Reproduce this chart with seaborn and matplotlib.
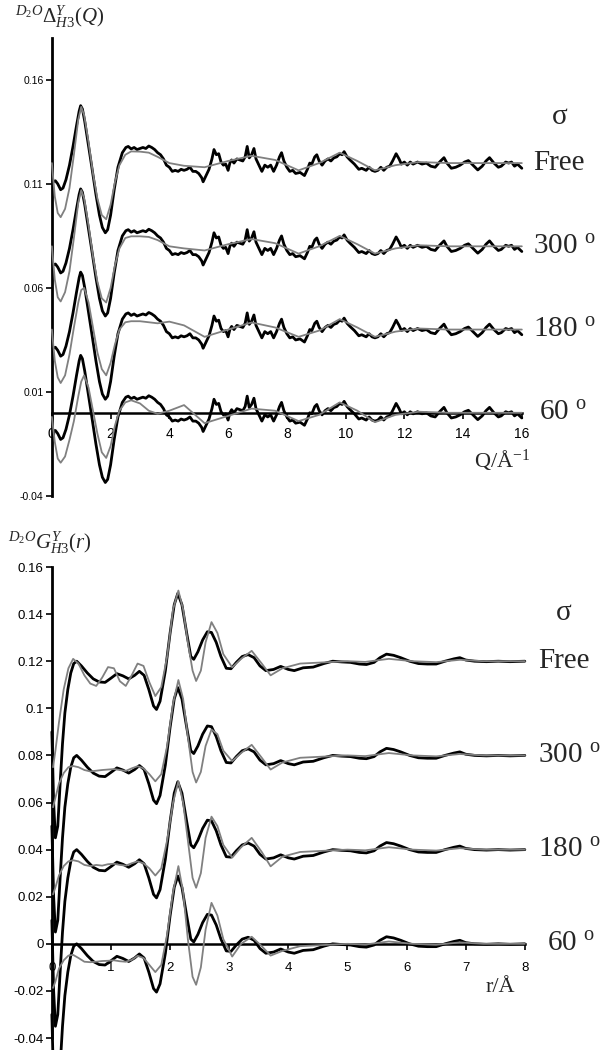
import pandas as pd
import matplotlib
matplotlib.use("Agg")
import matplotlib.pyplot as plt
import seaborn as sns

sns.set_style("white")
plt.rcParams["font.family"] = ["Liberation Sans", "DejaVu Sans"]
plt.rcParams["mathtext.fontset"] = "custom"
plt.rcParams["mathtext.rm"] = "Liberation Serif"
plt.rcParams["mathtext.it"] = "Liberation Serif:italic"
plt.rcParams["mathtext.bf"] = "Liberation Serif:bold"
plt.rcParams["axes.unicode_minus"] = False

# curves are stacked: each sigma is shifted up by a constant
sigmas = ["Free", "300", "180", "60"]
shifts = [0.12, 0.08, 0.04, 0.0]

# ---- top panel: Delta(Q), experiment (black), same for every sigma ----
q_exp = [0.04, 0.12, 0.2, 0.3, 0.38, 0.48, 0.6, 0.72, 0.84, 0.93, 0.98, 1.04, 1.12, 1.22,
         1.35, 1.5, 1.62, 1.72, 1.82, 1.9, 2.0, 2.12, 2.25, 2.4, 2.52, 2.6, 2.7, 2.8, 2.9,
         3.0, 3.1, 3.2, 3.3, 3.4, 3.5, 3.6, 3.7, 3.8, 3.9, 4.0, 4.1, 4.2, 4.3, 4.4, 4.5,
         4.6, 4.7, 4.8, 4.9, 5.0, 5.1, 5.15, 5.25, 5.35, 5.45, 5.52, 5.6, 5.68, 5.76, 5.84,
         5.92, 6.0, 6.06, 6.12, 6.2, 6.3, 6.4, 6.5, 6.58, 6.65, 6.72, 6.8, 6.88, 6.95, 7.05,
         7.15, 7.25, 7.35, 7.45, 7.55, 7.65, 7.75, 7.82, 7.9, 8.0, 8.1, 8.2, 8.3, 8.45, 8.6,
         8.7, 8.78, 8.85, 8.95, 9.02, 9.1, 9.2, 9.3, 9.4, 9.5, 9.6, 9.7, 9.8, 9.88, 9.95,
         10.05, 10.15, 10.3, 10.45, 10.55, 10.7, 10.8, 10.9, 11.0, 11.1, 11.2, 11.3, 11.4,
         11.5, 11.6, 11.72, 11.82, 11.9, 12.0, 12.1, 12.2, 12.3, 12.45, 12.6, 12.75, 12.9,
         13.05, 13.2, 13.35, 13.45, 13.6, 13.75, 13.9, 14.05, 14.18, 14.3, 14.5, 14.65,
         14.78, 14.9, 15.05, 15.2, 15.3, 15.45, 15.55, 15.65, 15.75, 15.85, 16.0]
d_exp = [-0.009, -0.0085, -0.010, -0.0128, -0.012, -0.008, -0.001, 0.008, 0.018, 0.025,
         0.0276, 0.026, 0.020, 0.011, -0.001, -0.015, -0.025, -0.031, -0.0335, -0.032,
         -0.025, -0.013, -0.002, 0.005, 0.0075, 0.008, 0.0068, 0.0075, 0.0065, 0.007,
         0.0075, 0.007, 0.0082, 0.0075, 0.0065, 0.005, 0.004, 0.002, -0.001, -0.002,
         -0.004, -0.0035, -0.004, -0.003, -0.0035, -0.003, -0.002, -0.004, -0.004, -0.005,
         -0.007, -0.009, -0.006, -0.003, 0.002, 0.0065, 0.004, 0.0045, 0.0005, -0.001,
         -0.0005, -0.0035, 0.0, 0.0015, 0.0, 0.002, 0.0015, 0.001, 0.003, 0.008, 0.0025,
         0.004, 0.007, 0.002, -0.001, -0.004, -0.001, -0.002, -0.001, -0.004, -0.001,
         0.003, 0.005, 0.001, -0.002, -0.004, -0.0035, -0.005, -0.0045, -0.006, -0.003,
         0.0, -0.0005, 0.003, 0.004, 0.001, -0.001, 0.001, 0.002, 0.001, 0.0025, 0.003,
         0.0045, 0.004, 0.0055, 0.003, 0.0015, -0.0005, -0.003, -0.0025, -0.0035, -0.002,
         -0.0035, -0.004, -0.0035, -0.002, -0.0035, -0.002, -0.0015, 0.001, 0.0045, 0.002,
         -0.0005, 0.0005, -0.001, 0.0005, -0.0005, 0.0005, -0.0005, 0.0, -0.0015, -0.002,
         0.0005, 0.0026, 0.0, -0.0025, -0.002, -0.001, 0.0005, 0.0012, -0.0005, -0.0033,
         -0.0015, 0.001, 0.0026, 0.0, -0.002, -0.0015, 0.0005, 0.0, 0.0005, -0.0015,
         -0.0005, -0.0025]

# ---- top panel: model fits (grey), one per sigma ----
q_fit = [0.0, 0.1, 0.2, 0.3, 0.45, 0.6, 0.75, 0.9, 1.0, 1.1, 1.25, 1.4, 1.55, 1.7, 1.85,
         2.0, 2.15, 2.3, 2.5, 2.7, 3.0, 3.3, 3.6, 4.0, 4.5, 5.2, 6.0, 6.8, 7.6, 8.4, 9.1,
         9.8, 10.4, 11.0, 11.7, 12.5, 13.5, 14.5, 16.0]
d_fit_free = [0.0, -0.016, -0.024, -0.026, -0.022, -0.012, 0.004, 0.021, 0.027, 0.023,
              0.010, -0.005, -0.017, -0.025, -0.027, -0.020, -0.009, -0.001, 0.004, 0.0056,
              0.0055, 0.005, 0.003, 0.0, -0.0013, -0.002, 0.001, 0.0035, 0.0015, -0.0035,
              0.0, 0.005, 0.001, -0.0035, -0.001, 0.0005, 0.0, 0.0, 0.0]
d_fit_300 = [0.0, -0.016, -0.0245, -0.0265, -0.022, -0.012, 0.004, 0.021, 0.027, 0.023,
             0.010, -0.005, -0.017, -0.025, -0.027, -0.020, -0.009, -0.001, 0.004, 0.0048,
             0.0048, 0.0045, 0.003, 0.0, -0.001, -0.002, 0.001, 0.0035, 0.0015, -0.0035,
             0.0, 0.005, 0.001, -0.0035, -0.001, 0.0005, 0.0, 0.0, 0.0]
d_fit_180 = [0.0, -0.015, -0.023, -0.0257, -0.022, -0.012, 0.001, 0.013, 0.019, 0.020,
             0.013, 0.001, -0.011, -0.019, -0.022, -0.016, -0.007, 0.0, 0.0035, 0.004,
             0.004, 0.0035, 0.003, 0.0038, 0.002, -0.0035, 0.0, 0.0034, 0.001, -0.0035,
             -0.0005, 0.005, 0.001, -0.0035, -0.001, 0.0005, 0.0, 0.0, 0.0]
d_fit_60 = [-0.002, -0.014, -0.022, -0.024, -0.021, -0.013, -0.004, 0.008, 0.015, 0.018,
            0.012, 0.001, -0.010, -0.019, -0.0217, -0.016, -0.006, 0.001, 0.005, 0.006,
            0.0045, 0.001, -0.0005, 0.001, 0.0037, -0.005, -0.0015, 0.002, 0.001, -0.004,
            -0.001, 0.005, 0.001, -0.0045, -0.001, 0.0005, 0.0, 0.0, 0.0]

# ---- bottom panel: G(r), experiment (black) ----
r_exp = [0.0, 0.03, 0.06, 0.1, 0.14, 0.18, 0.22, 0.27, 0.32, 0.37, 0.42, 0.5, 0.6, 0.7,
         0.8, 0.9, 1.0, 1.1, 1.2, 1.3, 1.4, 1.48, 1.56, 1.64, 1.72, 1.77, 1.83, 1.92, 2.0,
         2.07, 2.13, 2.2, 2.28, 2.35, 2.4, 2.47, 2.55, 2.63, 2.7, 2.78, 2.86, 2.95, 3.03,
         3.12, 3.22, 3.32, 3.42, 3.52, 3.62, 3.75, 3.87, 4.0, 4.1, 4.25, 4.42, 4.6, 4.75,
         4.9, 5.05, 5.2, 5.32, 5.45, 5.55, 5.66, 5.78, 5.9, 6.05, 6.2, 6.35, 6.5, 6.65, 6.8,
         6.9, 7.0, 7.15, 7.35, 7.55, 7.75, 8.0]
g_exp = [-0.03, -0.06, -0.075, -0.07, -0.052, -0.035, -0.022, -0.012, -0.005, -0.001, 0.0,
         -0.002, -0.005, -0.0075, -0.0088, -0.009, -0.0072, -0.0053, -0.0062, -0.0075,
         -0.006, -0.0043, -0.006, -0.012, -0.019, -0.0205, -0.017, -0.004, 0.012, 0.024,
         0.0288, 0.024, 0.012, 0.002, 0.0008, 0.004, 0.009, 0.0125, 0.0122, 0.008, 0.002,
         -0.003, -0.0032, -0.0005, 0.002, 0.0028, 0.0015, -0.002, -0.004, -0.0035, -0.0022,
         -0.0035, -0.004, -0.0028, -0.0025, -0.001, 0.0, -0.0003, -0.0005, -0.0012, -0.0014,
         -0.0005, 0.0015, 0.003, 0.0025, 0.0015, 0.0, -0.001, -0.0012, -0.0012, 0.0, 0.001,
         0.0015, 0.0005, 0.0, -0.0002, 0.0, -0.0002, 0.0]

# ---- bottom panel: model fits (grey) ----
r_fit = [0.02, 0.06, 0.12, 0.2, 0.28, 0.36, 0.45, 0.55, 0.65, 0.75, 0.85, 0.95, 1.05,
         1.15, 1.25, 1.35, 1.45, 1.55, 1.65, 1.75, 1.85, 1.95, 2.05, 2.14, 2.22, 2.3, 2.38,
         2.44, 2.52, 2.6, 2.7, 2.8, 2.9, 3.05, 3.2, 3.38, 3.55, 3.7, 3.9, 4.2, 4.6, 5.0,
         5.3, 5.7, 6.1, 6.5, 6.9, 7.3, 8.0]
g_fit_free = [-0.045, -0.038, -0.026, -0.012, -0.003, 0.001, -0.001, -0.006, -0.0095,
              -0.0105, -0.007, -0.0025, -0.003, -0.0085, -0.0105, -0.006, -0.001, -0.002,
              -0.009, -0.0148, -0.011, 0.002, 0.022, 0.030, 0.022, 0.008, -0.004, -0.0084,
              -0.004, 0.008, 0.0166, 0.012, 0.003, -0.0026, 0.001, 0.0044, -0.001, -0.006,
              -0.003, -0.001, -0.0005, 0.0, -0.0003, 0.001, 0.0, -0.0004, 0.0006, 0.0, 0.0]
g_fit_300 = [-0.022, -0.018, -0.012, -0.0075, -0.005, -0.0045, -0.005, -0.0062, -0.0068,
             -0.0065, -0.0062, -0.006, -0.0058, -0.0062, -0.0066, -0.0055, -0.0046, -0.0055,
             -0.008, -0.011, -0.008, 0.004, 0.022, 0.032, 0.024, 0.008, -0.007, -0.0115,
             -0.007, 0.004, 0.011, 0.009, 0.002, -0.0024, 0.001, 0.0045, -0.001, -0.006,
             -0.003, -0.001, -0.0005, 0.0, -0.0003, 0.001, 0.0, -0.0004, 0.0006, 0.0, 0.0]
g_fit_180 = [-0.019, -0.016, -0.011, -0.007, -0.005, -0.0045, -0.005, -0.0065, -0.007,
             -0.0065, -0.0068, -0.0062, -0.006, -0.0065, -0.0068, -0.0058, -0.005, -0.0058,
             -0.008, -0.011, -0.008, 0.004, 0.020, 0.029, 0.020, 0.004, -0.012, -0.0162,
             -0.010, 0.005, 0.014, 0.010, 0.002, -0.0034, 0.001, 0.005, -0.001, -0.0071,
             -0.003, -0.001, -0.0005, 0.0, -0.0003, 0.001, 0.0, -0.0004, 0.0006, 0.0, 0.0]
g_fit_60 = [-0.0187, -0.016, -0.0105, -0.007, -0.005, -0.0047, -0.006, -0.0076, -0.0078,
            -0.0076, -0.0073, -0.0072, -0.007, -0.0074, -0.0076, -0.0068, -0.0051, -0.006,
            -0.009, -0.012, -0.009, 0.004, 0.022, 0.033, 0.022, 0.002, -0.014, -0.0174,
            -0.010, 0.006, 0.0174, 0.012, 0.002, -0.0054, 0.0, 0.003, -0.001, -0.005,
            -0.003, -0.001, -0.0005, 0.0, -0.0003, 0.001, 0.0, -0.0004, 0.0006, 0.0, 0.0]

top_yticks = [-0.04, 0.01, 0.06, 0.11, 0.16]
top_ylabels = ["-0.04", "0.01", "0.06", "0.11", "0.16"]
bot_yticks = [-0.04, -0.02, 0.0, 0.02, 0.04, 0.06, 0.08, 0.1, 0.12, 0.14, 0.16]
bot_ylabels = ["-0.04", "-0.02", "0", "0.02", "0.04", "0.06", "0.08", "0.1", "0.12",
               "0.14", "0.16"]

fit_top = {"Free": d_fit_free, "300": d_fit_300, "180": d_fit_180, "60": d_fit_60}
fit_bot = {"Free": g_fit_free, "300": g_fit_300, "180": g_fit_180, "60": g_fit_60}

rows_exp_top, rows_fit_top, rows_exp_bot, rows_fit_bot = [], [], [], []
for s, off in zip(sigmas, shifts):
    rows_exp_top += [(q, v + off, s) for q, v in zip(q_exp, d_exp)]
    rows_fit_top += [(q, v + off, s) for q, v in zip(q_fit, fit_top[s])]
    rows_exp_bot += [(r, v + off, s) for r, v in zip(r_exp, g_exp)]
    rows_fit_bot += [(r, v + off, s) for r, v in zip(r_fit, fit_bot[s])]
cols = ["x", "y", "sigma"]
df_exp_top = pd.DataFrame(rows_exp_top, columns=cols)
df_fit_top = pd.DataFrame(rows_fit_top, columns=cols)
df_exp_bot = pd.DataFrame(rows_exp_bot, columns=cols)
df_fit_bot = pd.DataFrame(rows_fit_bot, columns=cols)

fig = plt.figure(figsize=(6.03, 10.5), dpi=100)
ax1 = fig.add_axes([0.086, 0.5276, 0.7794, 0.436])
ax2 = fig.add_axes([0.086, 0.0114, 0.7844, 0.4486])

for ax, de, dfit in [(ax1, df_exp_top, df_fit_top), (ax2, df_exp_bot, df_fit_bot)]:
    sns.lineplot(data=de, x="x", y="y", units="sigma", estimator=None, sort=False,
                 color="black", lw=2.0, ax=ax, zorder=3)
    sns.lineplot(data=dfit, x="x", y="y", units="sigma", estimator=None, sort=False,
                 color="#808080", lw=1.3, ax=ax, zorder=4)
    for ln in ax.lines:
        ln.set_clip_on(False)
    ax.set_xlabel("")
    ax.set_ylabel("")
    sns.despine(ax=ax, top=True, right=True)
    ax.spines["bottom"].set_position(("data", 0))
    ax.spines["left"].set_linewidth(2.0)
    ax.spines["bottom"].set_linewidth(1.8)
    ax.spines["left"].set_color("black")
    ax.spines["bottom"].set_color("black")
    ax.tick_params(axis="both", direction="out", length=4, width=1.2, color="black",
                   left=True, bottom=True, labelcolor="black")

ax1.set_xlim(0, 16)
ax1.set_ylim(-0.04, 0.18)
ax1.set_xticks(range(0, 17, 2))
ax1.set_yticks(top_yticks)
ax1.set_yticklabels(top_ylabels)
ax1.tick_params(axis="y", labelsize=7.5, pad=2)
ax1.tick_params(axis="x", labelsize=10, pad=6)

ax2.set_xlim(0, 8)
ax2.set_ylim(-0.04, 0.16)
ax2.set_xticks(range(0, 9))
ax2.set_yticks(bot_yticks)
ax2.set_yticklabels(bot_ylabels)
ax2.tick_params(axis="y", labelsize=9.5, pad=2)
ax2.tick_params(axis="x", labelsize=9.5, pad=9)

serif = ["Liberation Serif", "DejaVu Serif"]
lab_top = ["Free", "300 $^{\\rm o}$", "180 $^{\\rm o}$", "60 $^{\\rm o}$"]
for lab, off in zip(lab_top, shifts):
    x0 = 16.57 if lab.startswith("60") else 16.37
    ax1.text(x0, off, lab, family=serif, fontsize=21, va="center", ha="left",
             clip_on=False)
    x0 = 8.37 if lab.startswith("60") else 8.22
    ax2.text(x0, off, lab, family=serif, fontsize=21, va="center", ha="left",
             clip_on=False)
ax1.text(17.3, 0.142, "σ", family=serif, fontsize=21, va="center", ha="center")
ax2.text(8.65, 0.1404, "σ", family=serif, fontsize=21, va="center", ha="center")

ax1.text(16.27, -0.0226, "Q/Å$^{-1}$", family=serif, fontsize=16, va="center", ha="right")
ax2.text(7.83, -0.0187, "r/Å", family=serif, fontsize=16, va="center", ha="right")

fig.text(15 / 603, 1 - 17 / 1050, r"$^{D_2O}\Delta^{Y}_{H3}(Q)$", fontsize=15,
         va="center", ha="left")
fig.text(8 / 603, 1 - 543 / 1050, r"$^{D_2O}G^{Y}_{H3}(r)$", fontsize=15,
         va="center", ha="left")

fig.savefig("out.png", dpi=100)
